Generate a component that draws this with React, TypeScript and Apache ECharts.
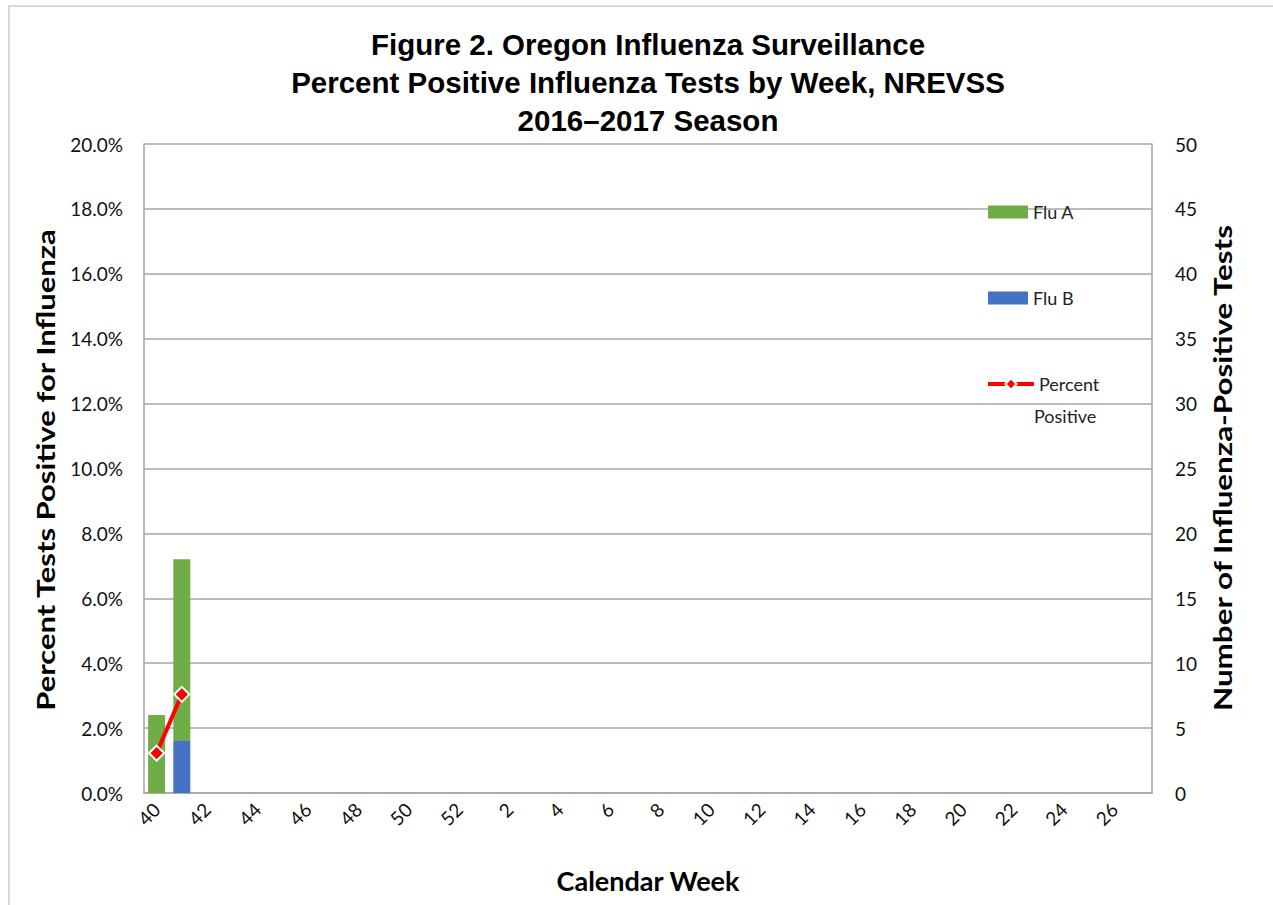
import React, { useEffect, useRef } from "react";
import * as echarts from "echarts";

const weeks = [
  "40", "41", "42", "43", "44", "45", "46", "47", "48", "49", "50", "51", "52",
  "1", "2", "3", "4", "5", "6", "7", "8", "9", "10", "11", "12", "13", "14",
  "15", "16", "17", "18", "19", "20", "21", "22", "23", "24", "25", "26", "27",
];
const fluA = [6, 14];
const fluB = [0, 4];
const percentPositive = [1.23, 3.04];

const titleLines = [
  "Figure 2. Oregon Influenza Surveillance",
  "Percent Positive Influenza Tests by Week, NREVSS",
  "2016\u20132017 Season",
];
const leftAxisTitle = "Percent Tests Positive for Influenza";
const rightAxisTitle = "Number of Influenza-Positive Tests";
const xAxisTitle = "Calendar Week";

const FONT = "Lato, 'Open Sans', sans-serif";
const TITLE_FONT = "'Liberation Sans Narrow', 'Arial Narrow', 'Liberation Sans', sans-serif";
const GRID_COLOR = "#a6a6a6";

export default function App() {
  const ref = useRef<HTMLDivElement>(null);
  useEffect(() => {
    if (!ref.current) return;
    const chart = echarts.init(ref.current, undefined, { renderer: "svg" });
    const legendText = { fontFamily: FONT, fontSize: 18, color: "#222", lineHeight: 20, height: 20 };
    chart.setOption({
      animation: false,
      backgroundColor: "#fff",
      title: {
        text: titleLines.join("\n"),
        left: 643,
        top: 20,
        textAlign: "center",
        textStyle: {
          fontFamily: TITLE_FONT,
          fontWeight: "bold",
          fontSize: 29.5,
          lineHeight: 38,
          color: "#000",
        },
      },
      graphic: [
        {
          type: "rect",
          z: -10,
          shape: { x: 9, y: 6, width: 1400, height: 1000 },
          style: { fill: "none", stroke: "#d9d9d9", lineWidth: 2 },
        },
        {
          type: "text",
          x: 1034,
          y: 416,
          style: {
            text: "Positive",
            font: "18px Lato, sans-serif",
            fill: "#222",
            verticalAlign: "middle",
          },
        },
        {
          type: "text",
          x: 45,
          y: 470,
          rotation: Math.PI / 2,
          scaleX: 1.24,
          style: {
            text: leftAxisTitle,
            font: "bold 25px Lato, sans-serif",
            fill: "#000",
            align: "center",
            verticalAlign: "middle",
          },
        },
        {
          type: "text",
          x: 1222,
          y: 468,
          rotation: Math.PI / 2,
          scaleX: 1.255,
          style: {
            text: rightAxisTitle,
            font: "bold 25px Lato, sans-serif",
            fill: "#000",
            align: "center",
            verticalAlign: "middle",
          },
        },
      ],
      legend: [
        {
          data: ["Flu A"],
          left: 983,
          top: 197,
          icon: "rect",
          itemWidth: 40,
          itemHeight: 13,
          textStyle: legendText,
          selectedMode: false,
        },
        {
          data: ["Flu B"],
          left: 983,
          top: 283,
          icon: "rect",
          itemWidth: 40,
          itemHeight: 13,
          textStyle: legendText,
          selectedMode: false,
        },
        {
          data: ["Percent Positive"],
          left: 981,
          top: 369,
          itemWidth: 46,
          itemHeight: 14,
          formatter: () => "Percent",
          lineStyle: { width: 4, color: "#ff0000" },
          textStyle: legendText,
          selectedMode: false,
        },
      ],
      grid: { left: 144, right: 121, top: 144, bottom: 112 },
      xAxis: {
        type: "category",
        data: weeks,
        boundaryGap: true,
        name: xAxisTitle,
        nameLocation: "middle",
        nameGap: 74,
        nameTextStyle: { fontFamily: FONT, fontSize: 27, fontWeight: "bold", color: "#000" },
        axisLine: { show: true, lineStyle: { color: GRID_COLOR, width: 1.5 } },
        axisTick: { show: false },
        axisLabel: {
          interval: 1,
          rotate: 45,
          margin: 13,
          fontFamily: FONT,
          fontSize: 19,
          color: "#111",
        },
      },
      yAxis: [
        {
          type: "value",
          min: 0,
          max: 20,
          interval: 2,
          axisLine: { show: true, lineStyle: { color: GRID_COLOR, width: 1.5 } },
          axisTick: { show: false },
          splitLine: { show: true, lineStyle: { color: GRID_COLOR, width: 1.5 } },
          axisLabel: {
            margin: 21,
            fontFamily: FONT,
            fontSize: 19,
            color: "#111",
            formatter: (v: number) => v.toFixed(1) + "%",
          },
        },
        {
          type: "value",
          min: 0,
          max: 50,
          interval: 5,
          position: "right",
          axisLine: { show: true, lineStyle: { color: GRID_COLOR, width: 1.5 } },
          axisTick: { show: false },
          splitLine: { show: false },
          axisLabel: {
            margin: 23,
            fontFamily: FONT,
            fontSize: 19,
            color: "#111",
          },
        },
      ],
      series: [
        {
          name: "Flu B",
          type: "bar",
          stack: "flu",
          yAxisIndex: 1,
          barWidth: 17,
          data: fluB,
          itemStyle: { color: "#4472c4" },
        },
        {
          name: "Flu A",
          type: "bar",
          stack: "flu",
          yAxisIndex: 1,
          barWidth: 17,
          data: fluA,
          itemStyle: { color: "#70ad47" },
        },
        {
          name: "Percent Positive",
          type: "line",
          yAxisIndex: 0,
          data: percentPositive,
          symbol: "diamond",
          symbolSize: 15,
          z: 5,
          lineStyle: { color: "#ff0000", width: 4 },
          itemStyle: { color: "#ff0000", borderColor: "#ffffff", borderWidth: 2 },
        },
      ],
    });
    return () => chart.dispose();
  }, []);
  return (
    <div
      ref={ref}
      style={{ position: "absolute", left: 0, top: 0, width: 1273, height: 905 }}
    />
  );
}
